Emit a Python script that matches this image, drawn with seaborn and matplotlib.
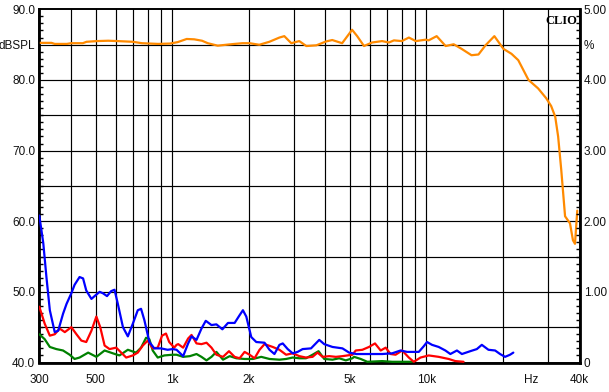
import numpy as np
import pandas as pd
import matplotlib
matplotlib.use("Agg")
import matplotlib.pyplot as plt
import seaborn as sns
from matplotlib.ticker import FixedLocator, MultipleLocator, NullFormatter

# ---------------- data ----------------
spl_freq = [300, 335, 345, 385, 400, 445, 460, 505, 560, 610, 700, 760, 880, 980,
            1050, 1140, 1220, 1310, 1380, 1510, 1650, 1760, 1890, 2015, 2200, 2410,
            2640, 2760, 2940, 3160, 3370, 3690, 4030, 4260, 4660, 5100, 5340, 5680,
            6110, 6690, 7120, 7450, 8000, 8530, 9080, 9940, 10200, 10970, 11900,
            12800, 13750, 15040, 16020, 17070, 18500, 20080, 21600, 22970, 25200,
            27500, 29600, 30950, 32100, 32960, 33900, 35100, 36700, 37700, 38400, 39200]
spl_db = [85.25, 85.25, 85.1, 85.1, 85.2, 85.2, 85.4, 85.5, 85.55, 85.5, 85.4, 85.2,
          85.1, 85.15, 85.35, 85.8, 85.75, 85.55, 85.2, 84.85, 85.0, 85.1, 85.2, 85.2,
          84.98, 85.4, 86.0, 86.2, 85.2, 85.5, 84.8, 84.9, 85.45, 85.65, 85.2, 87.1,
          86.2, 84.8, 85.3, 85.5, 85.3, 85.6, 85.5, 86.0, 85.5, 85.7, 85.6, 86.2, 84.8,
          85.05, 84.4, 83.5, 83.6, 84.9, 86.2, 84.4, 83.7, 82.8, 80.0, 78.8, 77.4, 76.3,
          74.8, 72.0, 67.3, 60.7, 59.7, 57.3, 56.8, 61.5]

blue_freq = [300, 311, 320, 330, 345, 356, 372, 384, 401, 413, 432, 446, 459, 481, 495,
             518, 534, 554, 575, 593, 611, 640, 669, 700, 732, 754, 777, 813, 850, 903,
             959, 1004, 1040, 1104, 1155, 1191, 1246, 1303, 1355, 1427, 1492, 1575, 1657,
             1760, 1841, 1897, 1956, 2046, 2141, 2307, 2413, 2524, 2641, 2721, 2846, 2977,
             3114, 3258, 3515, 3787, 3962, 4270, 4673, 4964, 5300, 5595, 6124, 6702, 7333,
             7910, 8395, 9330, 9759, 10054, 10517, 11173, 11870, 12418, 13180, 13788,
             14868, 15785, 16512, 17537, 18625, 19484, 20383, 21323, 21966]
blue_pct = [2.08, 1.69, 1.21, 0.74, 0.43, 0.45, 0.69, 0.83, 0.98, 1.10, 1.21, 1.19, 1.02,
            0.90, 0.94, 1.00, 0.98, 0.94, 1.01, 1.03, 0.83, 0.50, 0.37, 0.55, 0.74, 0.76,
            0.60, 0.29, 0.20, 0.20, 0.18, 0.19, 0.18, 0.09, 0.27, 0.37, 0.32, 0.48, 0.59,
            0.53, 0.54, 0.47, 0.56, 0.56, 0.67, 0.74, 0.65, 0.36, 0.29, 0.28, 0.18, 0.12,
            0.25, 0.27, 0.19, 0.13, 0.15, 0.19, 0.20, 0.32, 0.26, 0.22, 0.20, 0.14, 0.12,
            0.12, 0.12, 0.12, 0.13, 0.17, 0.15, 0.15, 0.23, 0.29, 0.25, 0.22, 0.17, 0.12,
            0.17, 0.12, 0.16, 0.19, 0.25, 0.18, 0.17, 0.12, 0.08, 0.11, 0.14]

red_freq = [300, 315, 330, 345, 361, 378, 401, 420, 439, 459, 481, 503, 521, 542, 567,
            602, 630, 659, 700, 732, 766, 801, 838, 877, 912, 945, 973, 1018, 1040, 1056,
            1104, 1155, 1191, 1246, 1303, 1364, 1427, 1492, 1584, 1672, 1760, 1841, 1926,
            2015, 2108, 2205, 2307, 2486, 2641, 2805, 2977, 3162, 3359, 3565, 3729, 3902,
            4145, 4403, 4673, 5114, 5272, 5595, 5943, 6275, 6606, 6911, 7227, 7561, 8026,
            8525, 8918, 9474, 10210, 11173, 12228, 12991, 13996]
red_pct = [0.79, 0.55, 0.38, 0.40, 0.48, 0.43, 0.50, 0.40, 0.31, 0.29, 0.45, 0.65, 0.50,
           0.24, 0.19, 0.21, 0.14, 0.07, 0.10, 0.14, 0.24, 0.31, 0.20, 0.21, 0.38, 0.41,
           0.29, 0.21, 0.25, 0.26, 0.21, 0.34, 0.39, 0.27, 0.26, 0.28, 0.21, 0.11, 0.08,
           0.16, 0.08, 0.06, 0.15, 0.11, 0.06, 0.18, 0.26, 0.22, 0.18, 0.11, 0.13, 0.09,
           0.07, 0.08, 0.14, 0.08, 0.09, 0.08, 0.09, 0.11, 0.17, 0.18, 0.22, 0.27, 0.17,
           0.21, 0.12, 0.11, 0.17, 0.07, 0.01, 0.07, 0.10, 0.08, 0.05, 0.02, 0.01]

green_freq = [300, 315, 330, 350, 372, 395, 413, 432, 467, 503, 542, 584, 620, 669, 721,
              754, 789, 813, 838, 877, 931, 1004, 1040, 1104, 1173, 1246, 1303, 1364, 1427,
              1492, 1584, 1683, 1787, 1926, 2076, 2239, 2413, 2641, 2805, 2977, 3162, 3359,
              3565, 3763, 3962, 4270, 4536, 4818, 5114, 5193, 5515, 5852, 6702, 7333, 8026,
              8782]
green_pct = [0.40, 0.33, 0.22, 0.19, 0.17, 0.11, 0.05, 0.07, 0.14, 0.08, 0.17, 0.13, 0.10,
             0.18, 0.14, 0.21, 0.35, 0.33, 0.17, 0.07, 0.10, 0.11, 0.11, 0.08, 0.09, 0.12,
             0.08, 0.03, 0.08, 0.15, 0.04, 0.09, 0.06, 0.05, 0.05, 0.08, 0.05, 0.04, 0.05,
             0.07, 0.06, 0.06, 0.11, 0.16, 0.05, 0.04, 0.06, 0.03, 0.06, 0.08, 0.05, 0.01,
             0.02, 0.01, 0.01, 0.01]

grid_freqs = [300, 400, 500, 600, 700, 800, 900, 1000, 2000, 3000, 4000, 5000, 6000,
              7000, 8000, 9000, 10000, 20000, 30000, 40000]
xtick_freqs = [300, 500, 1000, 2000, 5000, 10000, 25800, 40000]
xtick_labels = ["300", "500", "1k", "2k", "5k", "10k", "Hz", "40k"]
left_ticks = [40, 50, 60, 70, 80, 85, 90]
left_labels = ["40.0", "50.0", "60.0", "70.0", "80.0", "dBSPL", "90.0"]
right_ticks = [0, 1, 2, 3, 4, 4.5, 5]
right_labels = ["0", "1.00", "2.00", "3.00", "4.00", "%", "5.00"]

# ---------------- plot ----------------
sns.set_style("white")
plt.rcParams['font.family'] = ['Liberation Sans', 'DejaVu Sans']

fig = plt.figure(figsize=(6.09, 3.92), dpi=100)
ax = fig.add_axes([39.3 / 609, 29.5 / 392, (579.5 - 39.3) / 609, (382.7 - 29.5) / 392])
ax2 = ax.twinx()

ax.set_xscale("log")
ax.set_xlim(300, 40000)
ax.set_ylim(40, 90)
ax2.set_ylim(0, 5)

# grid
for f in grid_freqs[1:-1]:
    ax.axvline(f, color="black", lw=0.85, zorder=1)
for v in range(45, 90, 5):
    ax.axhline(v, color="black", lw=0.85, zorder=1)

spl_df = pd.DataFrame({"freq": spl_freq, "val": spl_db})
sns.lineplot(data=spl_df, x="freq", y="val", ax=ax, color="#ff8a00", lw=1.6,
             estimator=None, sort=False, zorder=5)

for fr, pc, col in [(green_freq, green_pct, "#008000"),
                    (red_freq, red_pct, "#ff0000"),
                    (blue_freq, blue_pct, "#0000ff")]:
    df = pd.DataFrame({"freq": fr, "val": pc})
    sns.lineplot(data=df, x="freq", y="val", ax=ax2, color=col, lw=1.6,
                 estimator=None, sort=False, zorder=4)

ax.set_xlabel("")
ax.set_ylabel("")
ax2.set_ylabel("")

ax.xaxis.set_major_locator(FixedLocator(xtick_freqs))
ax.set_xticklabels(xtick_labels)
ax.xaxis.set_minor_locator(FixedLocator([]))
ax.xaxis.set_minor_formatter(NullFormatter())
ax.tick_params(axis="x", which="both", length=0, pad=8, labelsize=8.5, colors="#111111")

ax.set_yticks(left_ticks)
ax.set_yticklabels(left_labels)
ax.yaxis.set_minor_locator(MultipleLocator(1))
ax.tick_params(axis="y", which="major", direction="in", length=0, pad=3,
               labelsize=8.5, labelcolor="#111111")
ax.tick_params(axis="y", which="minor", direction="in", length=3, width=1, color="black")

ax2.set_yticks(right_ticks)
ax2.set_yticklabels(right_labels)
ax2.yaxis.set_minor_locator(MultipleLocator(0.1))
ax2.tick_params(axis="y", which="major", direction="in", length=0, pad=3,
                labelsize=8.5, labelcolor="#111111")
ax2.tick_params(axis="y", which="minor", direction="in", length=3, width=1, color="black")

for a in (ax, ax2):
    for s in a.spines.values():
        s.set_color("black")
        s.set_linewidth(1.2)
ax.spines["left"].set_linewidth(2.0)
ax.spines["bottom"].set_linewidth(2.0)
ax2.spines["right"].set_linewidth(2.0)

ax2.text(0.995, 0.985, "CLIO", transform=ax2.transAxes, ha="right", va="top",
         fontsize=9, fontweight="bold", family=["Liberation Serif", "DejaVu Serif"],
         color="black", zorder=10)

fig.savefig("out.png", dpi=100, facecolor="white")
